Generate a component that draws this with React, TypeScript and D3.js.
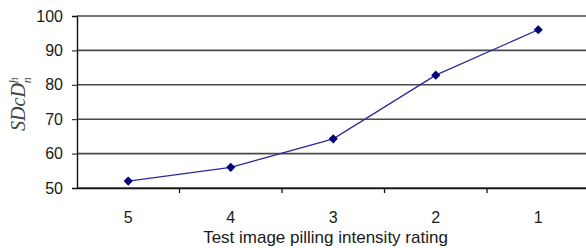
import React, { useEffect, useRef } from 'react';
import * as d3 from 'd3';

const ratings = ['5', '4', '3', '2', '1'];
const sdcdValues = [52, 56, 64.3, 82.8, 96];
const yTicks = [50, 60, 70, 80, 90, 100];

const W = 586;
const H = 248;

const App = () => {
    const svgRef = useRef<SVGSVGElement | null>(null);

    useEffect(() => {
        const svg = d3.select(svgRef.current);
        svg.selectAll('*').remove();

        const margin = { left: 77, top: 16, bottom: 60 };
        const plotW = 512.5;

        const x = d3.scaleBand<string>()
            .domain(ratings)
            .range([margin.left, margin.left + plotW]);

        const y = d3.scaleLinear()
            .domain([50, 100])
            .range([H - margin.bottom, margin.top]);

        const font = 'Liberation Sans, Arial, sans-serif';

        // gridlines
        svg.append('g')
            .selectAll('line')
            .data(yTicks)
            .join('line')
            .attr('x1', margin.left)
            .attr('x2', margin.left + plotW)
            .attr('y1', d => y(d))
            .attr('y2', d => y(d))
            .attr('stroke', '#4a4a4a')
            .attr('stroke-width', 1.6);

        // y axis
        const yAxis = svg.append('g')
            .attr('transform', `translate(${margin.left},0)`)
            .call(d3.axisLeft(y).tickValues(yTicks).tickSize(5).tickPadding(9));
        yAxis.select('.domain').attr('stroke', '#111').attr('stroke-width', 1.4);
        yAxis.selectAll('.tick line').attr('stroke', '#111');
        yAxis.selectAll('text')
            .style('font-family', font)
            .style('font-size', '16px')
            .attr('fill', '#1a1a1a');

        // x axis
        const xAxis = svg.append('g')
            .attr('transform', `translate(0,${y(50)})`)
            .call(d3.axisBottom(x).tickSize(0).tickPadding(24));
        xAxis.select('.domain').attr('stroke', '#111').attr('stroke-width', 1.4);
        xAxis.selectAll('text')
            .style('font-family', font)
            .style('font-size', '16px')
            .attr('fill', '#1a1a1a');

        // x tick marks at band boundaries
        svg.append('g')
            .selectAll('line')
            .data(ratings.slice(1))
            .join('line')
            .attr('x1', d => x(d) as number)
            .attr('x2', d => x(d) as number)
            .attr('y1', y(50))
            .attr('y2', y(50) + 5)
            .attr('stroke', '#111')
            .attr('stroke-width', 1.3);

        // line
        const pts = ratings.map((r, i) => [(x(r) as number) + x.bandwidth() / 2, y(sdcdValues[i])] as [number, number]);
        svg.append('path')
            .datum(pts)
            .attr('d', d3.line())
            .attr('fill', 'none')
            .attr('stroke', '#2a2a9a')
            .attr('stroke-width', 1.3);

        svg.append('g')
            .selectAll('path')
            .data(pts)
            .join('path')
            .attr('d', d3.symbol(d3.symbolSquare, 42))
            .attr('transform', d => `translate(${d[0]},${d[1]}) rotate(45)`)
            .attr('fill', '#00007a');

        // x title
        svg.append('text')
            .attr('x', 325.5)
            .attr('y', 243)
            .attr('text-anchor', 'middle')
            .style('font-family', font)
            .style('font-size', '17px')
            .attr('fill', '#1a1a1a')
            .text('Test image pilling intensity rating');

        // y title
        const yt = svg.append('text')
            .attr('transform', 'translate(25,104) rotate(-90)')
            .attr('text-anchor', 'middle')
            .style('font-family', 'Liberation Serif, Times New Roman, serif')
            .style('font-style', 'italic')
            .style('font-size', '20px')
            .attr('fill', '#444');
        yt.append('tspan').text('SDcD');
        yt.append('tspan').attr('dy', -7).style('font-size', '12px').text('h');
        yt.append('tspan').attr('dx', -6).attr('dy', 13).style('font-size', '12px').text('n');
    }, []);

    return (
        <svg ref={svgRef} width={W} height={H} style={{ position: 'absolute', left: 0, top: 0 }} />
    );
};

export default App;
